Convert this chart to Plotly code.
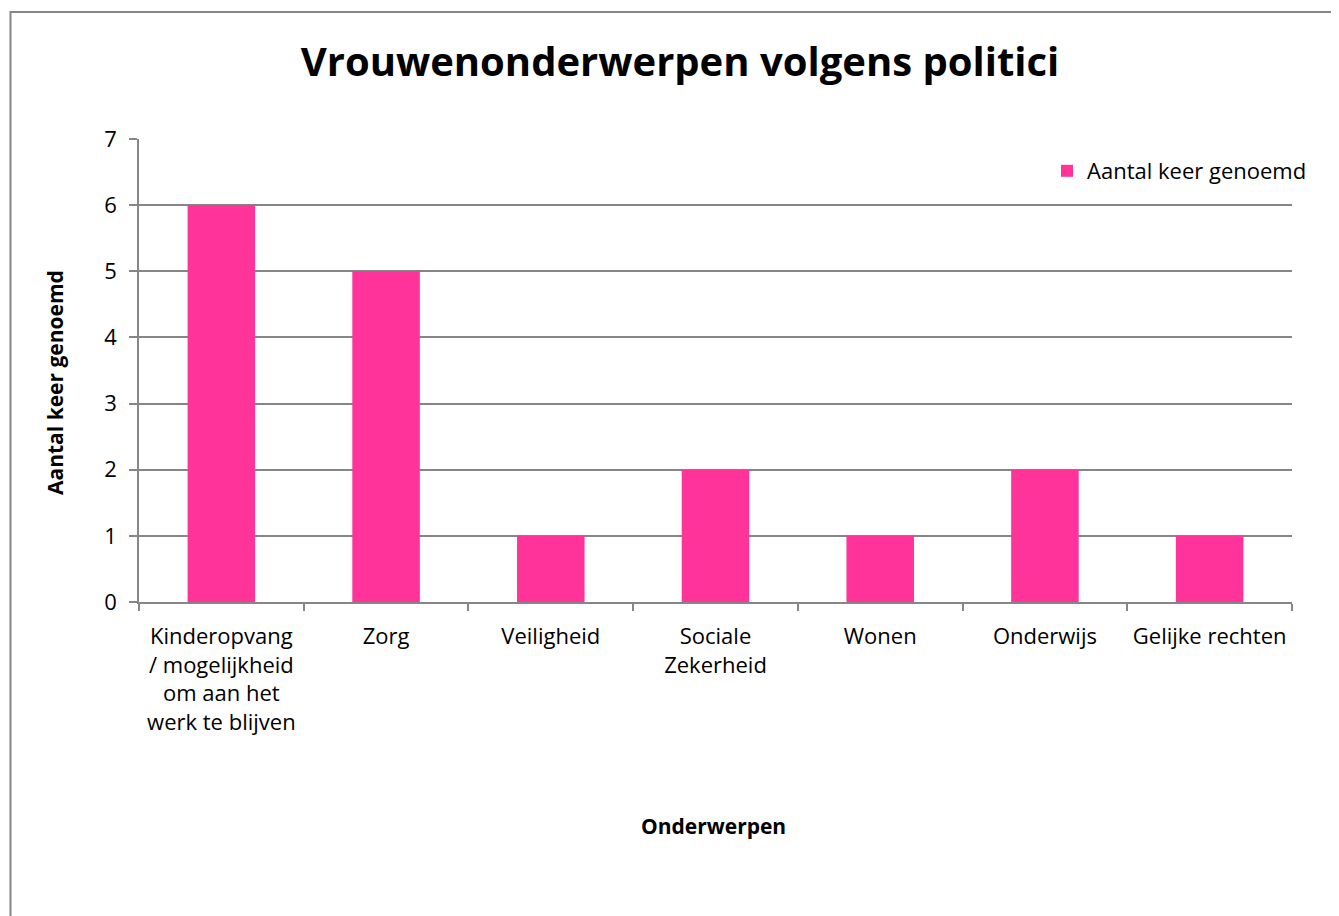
import plotly.graph_objects as go

categories = [
    "Kinderopvang<br>/ mogelijkheid<br>om aan het<br>werk te blijven",
    "Zorg",
    "Veiligheid",
    "Sociale<br>Zekerheid",
    "Wonen",
    "Onderwijs",
    "Gelijke rechten",
]
values = [6, 5, 1, 2, 1, 2, 1]
series_name = "Aantal keer genoemd"

OFF = 8  # page body margin
W, H = 1339 - OFF, 916 - OFF
L, R, T, B = 139 - OFF, 1292 - OFF, 139 - OFF, 602 - OFF
pw, ph = R - L, B - T

FONT = "Open Sans"
GRID = "#868686"
FS = 22

fig = go.Figure()
fig.add_trace(go.Bar(
    x=categories, y=values, name=series_name,
    marker=dict(color="#FF3399", line=dict(width=0)),
))

def px(x):
    return (x - OFF - L) / pw

def py(y):
    return (B - (y - OFF)) / ph

fig.update_layout(
    width=W, height=H,
    margin=dict(l=L, r=W - R, t=T, b=H - B, autoexpand=False),
    paper_bgcolor="white", plot_bgcolor="white",
    font=dict(family=FONT, size=FS, color="black"),
    bargap=0.59,
    showlegend=True,
    legend=dict(
        x=px(1312), xanchor="right", y=py(171), yanchor="middle",
        font=dict(size=FS, family=FONT), bgcolor="rgba(0,0,0,0)",
        itemsizing="constant",
    ),
    title=dict(
        text="<b>Vrouwenonderwerpen volgens politici</b>",
        x=(680 - OFF) / W, xref="container", xanchor="center",
        y=1 - (62 - OFF) / H, yref="container", yanchor="middle",
        font=dict(size=40, family=FONT, color="black"),
    ),
    xaxis=dict(
        type="category", tickson="boundaries", ticks="outside", ticklen=7,
        tickcolor=GRID, tickwidth=1.5, showline=True, linecolor=GRID, linewidth=1.5,
        showgrid=False, tickfont=dict(size=FS, family=FONT), tickangle=0,
        ticklabelstandoff=14,
    ),
    yaxis=dict(
        range=[0, 7], dtick=1, tick0=0, ticks="outside", ticklen=8,
        tickcolor=GRID, tickwidth=1.5, showline=True, linecolor=GRID, linewidth=1.5,
        showgrid=True, gridcolor=GRID, gridwidth=1.5, zeroline=False,
        tickfont=dict(size=FS, family=FONT), ticklabelstandoff=8,
    ),
    shapes=[dict(
        type="rect", xref="paper", yref="paper",
        x0=px(10.5), x1=px(1360), y0=py(940), y1=py(12),
        line=dict(color="#868686", width=2), fillcolor="rgba(0,0,0,0)", layer="below",
    )],
    annotations=[
        dict(text="<b>Aantal keer genoemd</b>", xref="paper", yref="paper",
             x=px(55), y=py(383), showarrow=False, textangle=-90,
             font=dict(size=21, family=FONT, color="black"),
             xanchor="center", yanchor="middle"),
        dict(text="<b>Onderwerpen</b>", xref="paper", yref="paper",
             x=px(713), y=py(826), showarrow=False,
             font=dict(size=21, family=FONT, color="black"),
             xanchor="center", yanchor="middle"),
    ],
)

fig.write_html("out.html")
